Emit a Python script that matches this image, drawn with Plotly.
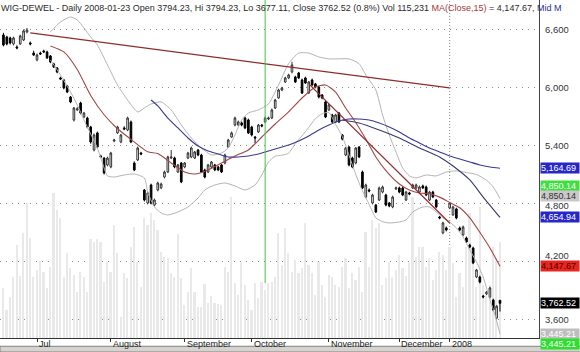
import pandas as pd
import plotly.graph_objects as go

# ---------------- calendar (trading days shown on the chart) ----------------
holidays = ["2007-08-15", "2007-11-01", "2007-12-24", "2007-12-25", "2007-12-26",
            "2007-12-27", "2007-12-28", "2007-12-31", "2008-01-01"]
dates = [d.strftime("%Y-%m-%d") for d in pd.bdate_range("2007-06-18", "2008-01-23")
         if d.strftime("%Y-%m-%d") not in holidays]

# ---------------- OHLC + volume ----------------
open_ = [6548, 6527, 6517, 6455, 6424, 6455, 6496, 6579, 6465, 6361,
         6289, 6361, 6382, 6372, 6330, 6247, 6206, 6102, 6081, 6019,
         5904, 5666, 5770, 5842, 5697, 5686, 5593, 5354, 5531, 5292,
         5271, 5199, 5178, 5448, 5531, 5437, 5583, 5562, 5645, 5219,
         5251, 5323, 4939, 4804, 4991, 4783, 4939, 4960, 5074, 5126,
         5271, 5271, 5126, 5219, 5178, 5271, 5282, 5271, 5354, 5302,
         5147, 5126, 5178, 5199, 5178, 5199, 5219, 5385, 5489, 5614,
         5614, 5635, 5686, 5666, 5593, 5489, 5541, 5614, 5645, 5676,
         5686, 5790, 5894, 5977, 6060, 6102, 6164, 6112, 6154, 6081,
         6102, 5946, 6081, 6040, 6008, 5925, 5853, 5770, 5718, 5645,
         5738, 5510, 5302, 5385, 5271, 5219, 5385, 5126, 4866, 4939,
         4804, 4783, 4835, 4918, 4887, 4804, 4763, 4950, 4960, 4960,
         4835, 4908, 4960, 4960, 4918, 4981, 4970, 4835, 4918, 4835,
         4659, 4493, 4545, 4752, 4680, 4742, 4545, 4472, 4441, 4368,
         4337, 4036, 4036, 3839, 3860, 3829, 3797, 3610, 3794.23]
high = [6570, 6540, 6530, 6530, 6440, 6550, 6605, 6621, 6480, 6385,
        6355, 6375, 6395, 6385, 6340, 6260, 6215, 6115, 6090, 6030,
        5915, 5800, 5800, 5855, 5750, 5700, 5605, 5525, 5545, 5305,
        5280, 5285, 5335, 5470, 5605, 5520, 5600, 5700, 5660, 5235,
        5390, 5335, 4950, 4920, 5005, 4850, 5025, 5015, 5140, 5295,
        5354, 5285, 5210, 5230, 5230, 5335, 5390, 5345, 5365, 5315,
        5160, 5210, 5240, 5210, 5190, 5210, 5315, 5470, 5545, 5700,
        5660, 5650, 5700, 5680, 5605, 5500, 5625, 5625, 5700, 5700,
        5785, 5885, 5990, 6010, 6115, 6145, 6268, 6125, 6165, 6095,
        6115, 6070, 6095, 6050, 6020, 5935, 5865, 5835, 5730, 5730,
        5750, 5520, 5385, 5395, 5285, 5385, 5395, 5140, 5005, 4955,
        4900, 4795, 4975, 4985, 4900, 4815, 4880, 4975, 4975, 4975,
        4930, 4920, 5005, 5005, 4985, 4995, 4985, 4930, 4930, 4845,
        4670, 4610, 4560, 4815, 4775, 4755, 4560, 4570, 4455, 4380,
        4350, 4120, 4050, 3850, 3890, 3935, 3810, 3745, 3794.23]
low = [6430, 6440, 6450, 6440, 6400, 6445, 6485, 6565, 6440, 6330,
       6275, 6340, 6360, 6300, 6255, 6205, 6150, 6080, 5985, 5945,
       5840, 5650, 5760, 5725, 5685, 5580, 5420, 5340, 5370, 5270,
       5100, 5185, 5165, 5435, 5520, 5425, 5560, 5550, 5425, 5135,
       5240, 5300, 4820, 4790, 4790, 4770, 4925, 4950, 5060, 5115,
       5260, 5165, 5115, 5010, 5165, 5260, 5270, 5260, 5290, 5115,
       5060, 5115, 5165, 5135, 5135, 5115, 5205, 5375, 5480, 5600,
       5600, 5600, 5570, 5520, 5495, 5427, 5530, 5590, 5635, 5665,
       5675, 5780, 5885, 5965, 6050, 6090, 6150, 6050, 6090, 5935,
       6040, 5935, 6015, 5995, 5890, 5880, 5685, 5760, 5635, 5635,
       5635, 5455, 5290, 5185, 5165, 5205, 5270, 4950, 4855, 4915,
       4790, 4700, 4825, 4905, 4770, 4760, 4750, 4940, 4905, 4875,
       4825, 4885, 4950, 4950, 4905, 4950, 4875, 4825, 4855, 4750,
       4635, 4480, 4510, 4740, 4670, 4635, 4510, 4460, 4390, 4335,
       4170, 4025, 3970, 3815, 3850, 3815, 3680, 3595, 3677.11]
close = [6444, 6455, 6465, 6517, 6413, 6538, 6590, 6600, 6455, 6340,
         6340, 6351, 6372, 6309, 6268, 6216, 6164, 6091, 5998, 5956,
         5853, 5790, 5780, 5738, 5738, 5593, 5437, 5510, 5385, 5282,
         5116, 5271, 5323, 5458, 5593, 5510, 5572, 5686, 5437, 5147,
         5375, 5313, 4835, 4908, 4804, 4835, 5012, 5001, 5126, 5282,
         5282, 5178, 5199, 5022, 5219, 5323, 5375, 5334, 5302, 5126,
         5074, 5199, 5230, 5147, 5147, 5126, 5302, 5458, 5531, 5686,
         5645, 5614, 5583, 5531, 5510, 5479, 5614, 5604, 5686, 5686,
         5770, 5873, 5977, 5998, 6102, 6133, 6237, 6060, 6102, 5946,
         6050, 6060, 6029, 6008, 5904, 5894, 5697, 5822, 5645, 5718,
         5645, 5469, 5375, 5199, 5178, 5375, 5282, 4960, 4991, 4929,
         4887, 4711, 4960, 4970, 4783, 4773, 4866, 4960, 4918, 4887,
         4918, 4898, 4991, 4991, 4970, 4960, 4887, 4918, 4866, 4763,
         4649, 4597, 4524, 4804, 4763, 4649, 4524, 4555, 4400, 4348,
         4182, 4109, 3984, 3829, 3880, 3922, 3694, 3733, 3762.52]
volume = [59600, 33600, 49600, 73600, 111600, 74400, 126400, 161600, 119600, 73600,
          81600, 92800, 79600, 59600, 85600, 173600, 153600, 143600, 73600, 101600,
          83600, 75600, 55600, 79600, 73600, 55600, 118400, 115600, 118400, 115600,
          67600, 91600, 79600, 135600, 101600, 25600, 77600, 71600, 109600, 132800,
          91600, 61600, 143600, 135600, 149600, 141600, 129600, 103600, 97600, 95600,
          77600, 73600, 124800, 71600, 39600, 55600, 83600, 55600, 36800, 37600,
          64800, 41600, 50400, 41600, 40800, 39600, 85600, 79600, 169600, 65600,
          51600, 90400, 63600, 45600, 33600, 65600, 47600, 67600, 57600, 66000,
          67600, 73600, 126400, 87600, 131600, 101600, 79600, 93600, 77600, 83600,
          137600, 87600, 77600, 51600, 91600,
          63600, 49600, 75600, 73600, 63600, 61600, 85600, 95600, 59600, 77600,
          69600, 85600, 55600, 127600, 85600, 141600, 131600, 137600, 63600, 71600,
          91600, 73600, 81600, 99600, 83600, 74400, 89600, 169600, 97600, 109600,
          109600, 85600, 95600, 69600, 81600, 103600, 99600, 81600, 109600, 89600,
          49600, 77600, 61600, 109600, 150000, 99600,
          61600, 157600, 63600, 51600, 63600, 109600, 96000, 115231]

# ---------------- indicator lines ----------------
ma15_dates = ["2007-07-06", "2007-07-12", "2007-07-18", "2007-07-24", "2007-07-30", "2007-08-03",
              "2007-08-09", "2007-08-17", "2007-08-22", "2007-08-28", "2007-09-03", "2007-09-06",
              "2007-09-12", "2007-09-18", "2007-09-24", "2007-09-28", "2007-10-04", "2007-10-10",
              "2007-10-16", "2007-10-22", "2007-10-26", "2007-10-31", "2007-11-06", "2007-11-09",
              "2007-11-14", "2007-11-19", "2007-11-22", "2007-11-27", "2007-12-03", "2007-12-06",
              "2007-12-11", "2007-12-14", "2007-12-19", "2008-01-02", "2008-01-07", "2008-01-10",
              "2008-01-15", "2008-01-18", "2008-01-23"]
ma15_vals = [6434, 6372, 6190, 5920, 5720, 5575, 5465, 5335, 5318, 5219, 5126, 5105,
             5147, 5219, 5292, 5354, 5489, 5624, 5749, 5894, 6008, 6029, 5956, 5790,
             5640, 5468, 5282, 5140, 5001, 4939, 4908, 4900, 4865, 4810, 4755, 4650,
             4500, 4337, 4147.67]

mid_dates = ["2007-08-20", "2007-08-22", "2007-08-27", "2007-08-30", "2007-09-04", "2007-09-07",
             "2007-09-12", "2007-09-17", "2007-09-20", "2007-09-25", "2007-09-28", "2007-10-03",
             "2007-10-08", "2007-10-11", "2007-10-16", "2007-10-19", "2007-10-24", "2007-10-29",
             "2007-11-02", "2007-11-07", "2007-11-12", "2007-11-15", "2007-11-20", "2007-11-23",
             "2007-11-28", "2007-12-03", "2007-12-06", "2007-12-11", "2007-12-14", "2007-12-19",
             "2008-01-02", "2008-01-07", "2008-01-10", "2008-01-15", "2008-01-18", "2008-01-23"]
mid_vals = [5873, 5811, 5686, 5583, 5479, 5396, 5344, 5313, 5282, 5282, 5292, 5313,
            5344, 5375, 5406, 5448, 5500, 5562, 5614, 5656, 5676, 5676, 5666, 5635,
            5593, 5541, 5479, 5427, 5375, 5334, 5292, 5261, 5230, 5199, 5178, 5164.69]

steep_dates = ["2007-11-08", "2007-11-15", "2007-11-23", "2007-12-03", "2007-12-11",
               "2007-12-19", "2008-01-03", "2008-01-10", "2008-01-16", "2008-01-23"]
steep_vals = [5666, 5635, 5562, 5479, 5375, 5282, 5188, 5043, 4866, 4654.94]

upper_dates = ["2007-07-06", "2007-07-11", "2007-07-16", "2007-07-18", "2007-07-20", "2007-07-24",
               "2007-07-26", "2007-07-31", "2007-08-03", "2007-08-08", "2007-08-13", "2007-08-16",
               "2007-08-20", "2007-08-23", "2007-08-28", "2007-08-31", "2007-09-05", "2007-09-10",
               "2007-09-13", "2007-09-18", "2007-09-20", "2007-09-24", "2007-09-26", "2007-09-28",
               "2007-10-03", "2007-10-08", "2007-10-11", "2007-10-16", "2007-10-19", "2007-10-24",
               "2007-10-29", "2007-11-02", "2007-11-07", "2007-11-12", "2007-11-15", "2007-11-19",
               "2007-11-22", "2007-11-26", "2007-11-28", "2007-11-30", "2007-12-04", "2007-12-06",
               "2007-12-10", "2007-12-13", "2007-12-18", "2007-12-21", "2008-01-04", "2008-01-09",
               "2008-01-14", "2008-01-17", "2008-01-21", "2008-01-23"]
upper_vals = [6579, 6683, 6735, 6704, 6621, 6527, 6444, 6237, 6029, 5873, 5749, 5790,
              5832, 5853, 5770, 5614, 5479, 5375, 5302, 5323, 5375, 5510, 5666, 5738,
              5770, 5832, 6029, 6250, 6360, 6360, 6320, 6300, 6300, 6300, 6250, 6133,
              5977, 5718, 5510, 5334, 5168, 5085, 5064, 5095, 5085, 5126, 5137, 5120,
              5100, 5040, 4970, 4850.14]

lower_dates = ["2007-07-06", "2007-07-11", "2007-07-16", "2007-07-18", "2007-07-20", "2007-07-24",
               "2007-07-26", "2007-07-30", "2007-07-31", "2007-08-02", "2007-08-07", "2007-08-10",
               "2007-08-16", "2007-08-17", "2007-08-21", "2007-08-23", "2007-08-27", "2007-08-30",
               "2007-09-04", "2007-09-07", "2007-09-11", "2007-09-14", "2007-09-19", "2007-09-24",
               "2007-09-27", "2007-10-02", "2007-10-04", "2007-10-08", "2007-10-10", "2007-10-12",
               "2007-10-16", "2007-10-18", "2007-10-22", "2007-10-24", "2007-10-26", "2007-10-30",
               "2007-11-02", "2007-11-06", "2007-11-08", "2007-11-12", "2007-11-14", "2007-11-16",
               "2007-11-20", "2007-11-22", "2007-11-26", "2007-11-28", "2007-12-03", "2007-12-05",
               "2007-12-07", "2007-12-12", "2007-12-14", "2007-12-18", "2007-12-20", "2008-01-02",
               "2008-01-04", "2008-01-08", "2008-01-10", "2008-01-14", "2008-01-16", "2008-01-18",
               "2008-01-21", "2008-01-22", "2008-01-23"]
lower_vals = [6289, 6133, 5956, 5822, 5666, 5520, 5375, 5168, 5085, 5074, 5095, 5105,
              5064, 4918, 4763, 4700, 4680, 4711, 4763, 4856, 4939, 4991, 5012, 4981,
              4939, 4991, 5095, 5230, 5290, 5300, 5321, 5420, 5500, 5588, 5680, 5730,
              5744, 5620, 5495, 5300, 5101, 4930, 4790, 4650, 4610, 4597, 4607, 4628,
              4711, 4763, 4763, 4711, 4649, 4607, 4545, 4451, 4316, 4192, 4036, 3800,
              3700, 3580, 3445.21]

trend_top_dates = ["2007-06-28", "2008-01-02"]
trend_top_vals = [6569, 5998]
trend_down_dates = ["2007-10-24", "2008-01-02"]
trend_down_vals = [6040, 4597]

marker_date = "2007-10-05"
marker_range = [3973, 6911]
year_start = "2008-01-02"

month_dates = ["2007-07-02", "2007-08-01", "2007-09-03", "2007-10-01", "2007-11-02", "2007-12-03", "2008-01-02"]
month_labels = ["Jul", "August", "September", "October", "November", "December", "2008"]
price_ticks = [3600, 4200, 4800, 5400, 6000, 6600]
tick_shift = {4200: 6, 4800: -2}          # px nudges so the tick labels peek out past the tags

# right-hand value tags: value, background, text colour, vertical offset (px)
tags = [(5164.69, "#2626C9", "#FFFFFF", 0),
        (4850.14, "#3DE03D", "#FFFFFF", 13),
        (4850.14, "#C9C9C9", "#333333", 3),
        (4654.94, "#2626C9", "#FFFFFF", 0),
        (4147.67, "#E8261E", "#4A0000", 0),
        (3762.52, "#000000", "#FFFFFF", 0),
        (3445.21, "#BEBEBE", "#FFFFFF", 0),
        (3445.21, "#2EE02E", "#FFFFFF", -10)]

FONT = "Liberation Sans, Arial, sans-serif"

fig = go.Figure()

fig.add_trace(go.Bar(x=dates, y=volume, yaxis="y", width=0.5,
                     marker=dict(color="#E9E9E9", line_width=0), hoverinfo="skip"))

line_specs = [
    (upper_dates, upper_vals, "#B4B4B4", 1),
    (lower_dates, lower_vals, "#B4B4B4", 1),
    (mid_dates, mid_vals, "#3A3A90", 1.1),
    (steep_dates, steep_vals, "#38386A", 1.1),
    (ma15_dates, ma15_vals, "#A04848", 1.1),
    (trend_top_dates, trend_top_vals, "#8E2C2C", 1.3),
    (trend_down_dates, trend_down_vals, "#8E2C2C", 1.2),
]
for xs, ys, col, w in line_specs:
    fig.add_trace(go.Scatter(x=xs, y=ys, yaxis="y2", mode="lines",
                             line=dict(color=col, width=w, shape="spline", smoothing=0.6),
                             hoverinfo="skip"))

fig.add_trace(go.Candlestick(
    x=dates, open=open_, high=high, low=low, close=close, yaxis="y2",
    increasing=dict(line=dict(color="#333333", width=1), fillcolor="#FFFFFF"),
    decreasing=dict(line=dict(color="#000000", width=1), fillcolor="#000000"),
    whiskerwidth=0, hoverinfo="skip"))

shapes = [
    dict(type="line", xref="x", yref="y2", x0=marker_date, x1=marker_date,
         y0=marker_range[0], y1=marker_range[1], line=dict(color="#3CC83C", width=1)),
    dict(type="line", xref="x", yref="paper", x0=year_start, x1=year_start, y0=0, y1=1,
         line=dict(color="#8A8A8A", width=1, dash="1px,2px"), layer="below"),
    dict(type="rect", xref="paper", yref="paper", x0=0, x1=1.08, y0=-0.0415, y1=-0.0245,
         fillcolor="#D6D3CE", line=dict(color="#808080", width=1)),
]

annotations = []
title_html = ("WIG-DEWEL - Daily 2008-01-23 Open 3794.23, Hi 3794.23, Lo 3677.11, "
              "Close 3762.52 (0.8%) Vol 115,231 "
              "<span style='color:#A03A3A'>MA(Close,15)</span> = 4,147.67, "
              "<span style='color:#2E2E8A'>Mid M</span>")
annotations.append(dict(xref="paper", yref="paper", x=0, y=1, xanchor="left", yanchor="top",
                        text=title_html, showarrow=False, yshift=-1, xshift=-1,
                        font=dict(family=FONT, size=9, color="#2A2A2A")))
for d, lab in zip(month_dates, month_labels):
    annotations.append(dict(xref="x", yref="paper", x=d, y=0, xanchor="left", yanchor="top",
                            text=lab, showarrow=False, xshift=0, yshift=1,
                            font=dict(family=FONT, size=9, color="#222222")))
for v in price_ticks:
    annotations.append(dict(xref="paper", yref="y2", x=1, y=v, xanchor="left", yanchor="middle",
                            text=f"{v:,}", showarrow=False, xshift=5, yshift=tick_shift.get(v, 0),
                            borderpad=0, height=9,
                            font=dict(family=FONT, size=9.5, color="#333333")))
for val, bg, fg, dy in tags:
    annotations.append(dict(xref="paper", yref="y2", x=1, y=val, xanchor="left", yanchor="middle",
                            text=f"{val:,.2f}", showarrow=False, xshift=1, yshift=dy,
                            bgcolor=bg, borderpad=0, width=38, height=10, align="left",
                            font=dict(family=FONT, size=9, color=fg)))

fig.update_layout(
    width=580, height=352,
    margin=dict(l=0, r=41, t=0, b=14),
    paper_bgcolor="white", plot_bgcolor="white",
    showlegend=False, bargap=0,
    shapes=shapes, annotations=annotations,
    xaxis=dict(type="category", range=[-1.03, 159.63], showgrid=False,
               tickvals=month_dates, showticklabels=False, ticks="outside", ticklen=3,
               tickcolor="#333333", showline=True, linecolor="#333333", linewidth=1,
               rangeslider=dict(visible=False), fixedrange=True),
    yaxis=dict(range=[0, 405600], visible=False, showgrid=False, fixedrange=True),
    yaxis2=dict(overlaying="y", side="right", range=[3403, 6911], tickvals=price_ticks,
                showticklabels=False, showgrid=True, gridcolor="#8C8C8C", gridwidth=1,
                griddash="1px,5px", showline=True, linecolor="#444444", linewidth=1,
                ticks="", zeroline=False, fixedrange=True),
)

fig.write_html("out.html", config={"displayModeBar": False})
